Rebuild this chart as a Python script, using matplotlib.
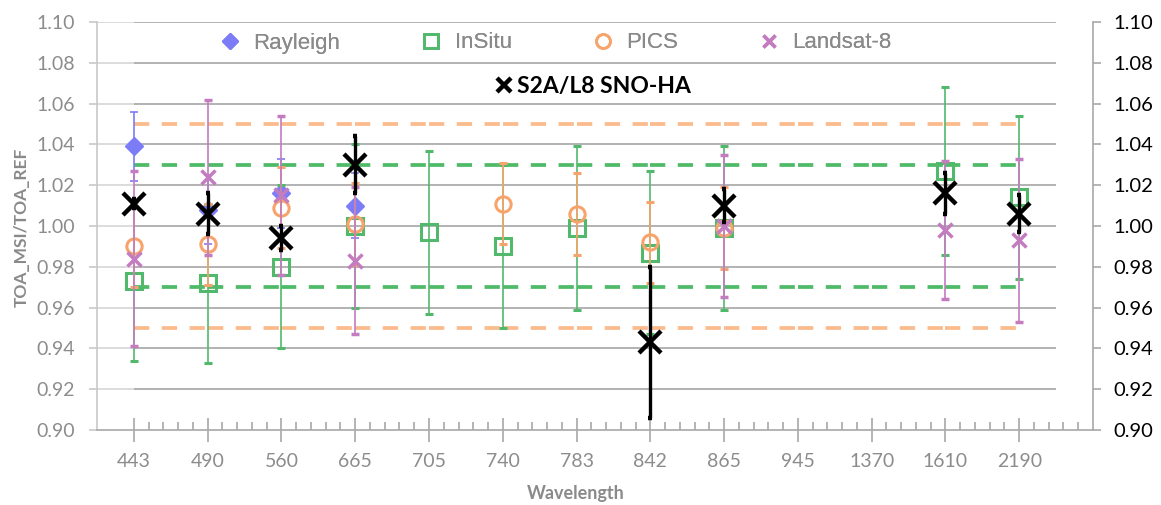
import numpy as np
import matplotlib
matplotlib.use("Agg")
import matplotlib.pyplot as plt
from matplotlib.lines import Line2D

plt.rcParams['lines.scale_dashes'] = False

nan = np.nan

# band centre wavelengths (nm), one category per band
wavelengths = ['443', '490', '560', '665', '705', '740', '783', '842',
               '865', '945', '1370', '1610', '2190']

rayleigh = [1.039, 1.008, 1.016, 1.010, nan, nan, nan, nan, nan, nan, nan, nan, nan]
rayleigh_err = [0.017, 0.017, 0.017, 0.016, nan, nan, nan, nan, nan, nan, nan, nan, nan]

insitu = [0.973, 0.972, 0.980, 1.000, 0.997, 0.990, 0.999, 0.987, 0.999, nan, nan, 1.027, 1.014]
insitu_err = [0.039, 0.039, 0.040, 0.040, 0.040, 0.040, 0.040, 0.040, 0.040, nan, nan, 0.041, 0.040]

pics = [0.990, 0.991, 1.009, 1.001, nan, 1.011, 1.006, 0.992, 0.999, nan, nan, nan, nan]
pics_err = [0.020, 0.020, 0.020, 0.020, nan, 0.020, 0.020, 0.020, 0.020, nan, nan, nan, nan]

landsat = [0.984, 1.024, 1.015, 0.983, nan, nan, nan, nan, 1.000, nan, nan, 0.998, 0.993]
landsat_err = [0.043, 0.038, 0.039, 0.036, nan, nan, nan, nan, 0.035, nan, nan, 0.034, 0.040]

sno = [1.011, 1.006, 0.994, 1.030, nan, nan, nan, 0.943, 1.010, nan, nan, 1.016, 1.006]
sno_err = [0.002, 0.010, 0.006, 0.014, nan, nan, nan, 0.037, 0.008, nan, nan, 0.010, 0.009]

# requirement bands: 5% (PICS) and 3% (in situ)
req_pics = [0.95, 1.05]
req_insitu = [0.97, 1.03]

c_ray = '#7b7cf6'
c_ins = '#52b96c'
c_pic = '#f7a46c'
c_lan = '#c47cc0'
grey_txt = '#8c8c8c'

W, H = 1161, 505
fig = plt.figure(figsize=(W / 100, H / 100), dpi=100)
ax = fig.add_axes([97 / W, 1 - 430 / H, (1093 - 97) / W, (430 - 22) / H])

x = np.arange(len(wavelengths))
ax.set_xlim(-0.5, 13)
ax.set_ylim(0.90, 1.10)
yt = np.round(np.arange(0.90, 1.1001, 0.02), 2)

# horizontal grid
for v in yt[1:]:
    ax.hlines(v, -0.5, 0, color='#d6d6d6', lw=1.2, zorder=0)
    ax.hlines(v, 0, 12.5, color='#a5a5a5', lw=1.2, zorder=0)

# requirement lines, dash pattern restarts at each band
for vals, col in [(req_pics, '#fbbb8c'), (req_insitu, '#4fba68')]:
    for v in vals:
        for i in range(len(wavelengths) - 1):
            ax.plot([x[i], x[i + 1]], [v, v], color=col, lw=2.7,
                    dashes=(11, 9), solid_capstyle='butt',
                    dash_capstyle='butt', zorder=1)


def draw(vals, errs, color, z, **kw):
    vals = np.array(vals)
    errs = np.array(errs)
    m = ~np.isnan(vals)
    ax.errorbar(x[m], vals[m], yerr=errs[m], ls='none', color=color,
                elinewidth=1.2, capsize=3, capthick=1.2, zorder=z, **kw)


draw(rayleigh, rayleigh_err, c_ray, 3, marker='D', ms=9, mec=c_ray, mfc=c_ray)
draw(insitu, insitu_err, c_ins, 4, marker='s', ms=11, mfc='none', mec=c_ins, mew=2.2)
draw(pics, pics_err, c_pic, 5, marker='o', ms=11, mfc='none', mec=c_pic, mew=2.2)
draw(landsat, landsat_err, c_lan, 6, marker='x', ms=10, mec=c_lan, mew=2.5)

sv = np.array(sno)
se = np.array(sno_err)
m = ~np.isnan(sv)
ax.errorbar(x[m], sv[m], yerr=se[m], ls='none', color='black',
            elinewidth=2.4, capsize=1.2, capthick=2.4, marker='x',
            ms=16, mew=3.2, zorder=8)

# axes styling
for s in ['top', 'right']:
    ax.spines[s].set_visible(False)
ax.spines['left'].set_color('#c8c8c8')
ax.spines['bottom'].set_color('#a8a8a8')
ax.spines['left'].set_linewidth(1.2)
ax.spines['bottom'].set_linewidth(1.2)

ax.set_yticks(yt)
ax.set_yticklabels([f'{v:.2f}' for v in yt])
ax.tick_params(axis='y', direction='out', length=6, width=1.2, color='#c8c8c8',
               labelcolor=grey_txt, labelsize=14, pad=10)
ax.set_xticks(x)
ax.set_xticklabels(wavelengths)
ax.set_xticks([i / 5 for i in range(0, 66) if i % 5 != 0], minor=True)
ax.tick_params(axis='x', which='major', direction='inout', length=17, width=1.2,
               color='#a8a8a8', labelcolor=grey_txt, labelsize=14, pad=8)
ax.tick_params(axis='x', which='minor', direction='in', length=6, width=1.2,
               color='#a8a8a8')
for lab in ax.get_xticklabels() + ax.get_yticklabels():
    lab.set_family('Lato')

ax2 = ax.twinx()
ax2.set_ylim(0.90, 1.10)
for s in ['top', 'left', 'bottom']:
    ax2.spines[s].set_visible(False)
ax2.spines['right'].set_color('#a8a8a8')
ax2.spines['right'].set_linewidth(1.2)
ax2.set_yticks(yt)
ax2.set_yticklabels([f'{v:.2f}' for v in yt])
ax2.tick_params(axis='y', direction='out', length=6, width=1.2, color='#a8a8a8',
                labelcolor='black', labelsize=14.5, pad=9)
for lab in ax2.get_yticklabels():
    lab.set_family('Lato')

# legends
handles = [
    Line2D([], [], ls='none', marker='D', ms=8, color=c_ray),
    Line2D([], [], ls='none', marker='s', ms=10, mfc='none', mec=c_ins, mew=2),
    Line2D([], [], ls='none', marker='o', ms=10, mfc='none', mec=c_pic, mew=2),
    Line2D([], [], ls='none', marker='x', ms=9, mec=c_lan, mew=2.5),
]
leg = fig.legend(handles, ['Rayleigh', 'InSitu', 'PICS', 'Landsat-8'], ncol=4,
                 loc='center left', bbox_to_anchor=(219 / W, 1 - 43 / H),
                 frameon=False, borderpad=0, borderaxespad=0, handlelength=1.0,
                 handletextpad=0.55, columnspacing=3.6,
                 prop={'family': 'Liberation Sans', 'size': 16})
for t in leg.get_texts():
    t.set_color('#8a8a8a')
fig.add_artist(leg)

h2 = [Line2D([], [], ls='none', marker='x', ms=10, mec='black', mew=3.2)]
leg2 = fig.legend(h2, ['S2A/L8 SNO-HA'], loc='center left',
                  bbox_to_anchor=(495 / W, 1 - 87 / H), frameon=False,
                  borderpad=0, borderaxespad=0, handlelength=0.75,
                  handletextpad=0.2,
                  prop={'family': 'Lato', 'size': 16.5, 'weight': 'bold'})

fig.text(22 / W, 1 - 227 / H, 'TOA_MSI/TOA_REF', rotation=90, ha='center',
         va='center', color='#8a8a8a', fontsize=12.5, fontweight='bold',
         family='Lato')
fig.text(576 / W, 1 - 493 / H, 'Wavelength', ha='center', va='center',
         color='#8a8a8a', fontsize=13, fontweight='bold', family='Lato')

fig.savefig('out.png', dpi=100)
